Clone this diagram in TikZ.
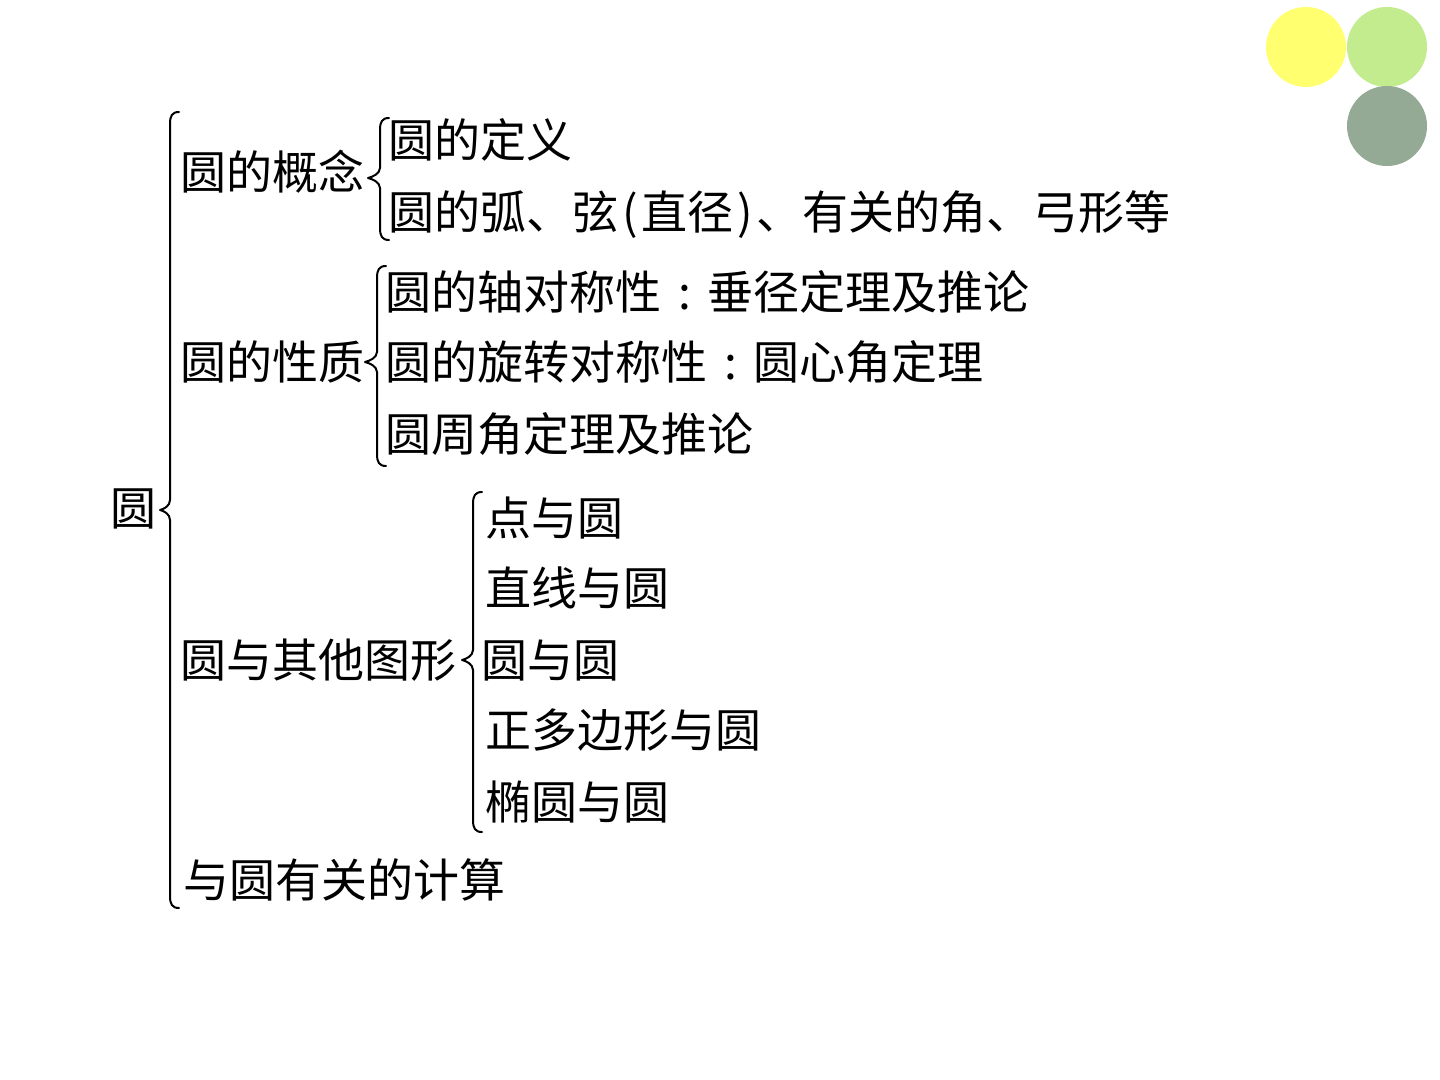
\documentclass[tikz,border=0pt]{standalone}
\usepackage{fontspec}
\setmainfont{Noto Sans CJK SC}
\newcommand{\cc}{\makebox[1em][c]{:}}
\newcommand{\lp}{\makebox[0.5em][c]{(}}
\newcommand{\rp}{\makebox[0.5em][c]{)}}
\begin{document}
\begin{tikzpicture}[x=0.5pt,y=-0.5pt,
  lbl/.style={anchor=west,inner sep=0pt,yshift=-5pt,font=\fontsize{23pt}{27pt}\selectfont,text height=0.88em,text depth=0.12em},
  brc/.style={line width=1pt,line cap=round,line join=round},
  dot/.style={circle,minimum size=40pt,inner sep=0pt,draw=none}]
\useasboundingbox[fill=white] (0,0) rectangle (1440,1080);
\definecolor{cyel}{HTML}{FFFF70}
\definecolor{cgrn}{HTML}{C2EC8E}
\definecolor{cgry}{HTML}{94AA94}
\node[dot,fill=cyel] (c1) at (1306,47) {};
\node[dot,fill=cgrn] (c2) at (1387,47) {};
\node[dot,fill=cgry] (c3) at (1387,126) {};
\newcommand{\mybrace}[5]{% x, ytop, ybot, xtip, ymid
  \draw[brc] (#1+9,#2) .. controls (#1+2,#2) and (#1,#2+4) .. (#1,#2+12)
    -- (#1,#5-10) .. controls (#1,#5-4) and (#4+4,#5-1) .. (#4,#5)
    .. controls (#4+4,#5+1) and (#1,#5+4) .. (#1,#5+10)
    -- (#1,#3-12) .. controls (#1,#3-4) and (#1+2,#3) .. (#1+9,#3);}
\node[lbl] (root) at (110,508) {圆};
\mybrace{170}{112}{908}{160}{510}
\node[lbl] (a) at (180,172) {圆的概念};
\mybrace{380}{118}{240}{368}{178}
\node[lbl] (a1) at (388,140) {圆的定义};
\node[lbl] (a2) at (388,212) {圆的弧、弦\lp 直径\rp 、有关的角、弓形等};
\node[lbl] (b) at (180,362) {圆的性质};
\mybrace{377}{266}{466}{365}{362}
\node[lbl] (b1) at (385,292) {圆的轴对称性\cc 垂径定理及推论};
\node[lbl] (b2) at (385,362) {圆的旋转对称性\cc 圆心角定理};
\node[lbl] (b3) at (385,434) {圆周角定理及推论};
\node[lbl] (c) at (180,660) {圆与其他图形};
\mybrace{473}{492}{832}{462}{660}
\node[lbl] (c1t) at (485,518) {点与圆};
\node[lbl] (c2t) at (485,588) {直线与圆};
\node[lbl] (c3t) at (481,660) {圆与圆};
\node[lbl] (c4t) at (485,730) {正多边形与圆};
\node[lbl] (c5t) at (485,802) {椭圆与圆};
\node[lbl] (d) at (183,880) {与圆有关的计算};
\end{tikzpicture}
\end{document}
